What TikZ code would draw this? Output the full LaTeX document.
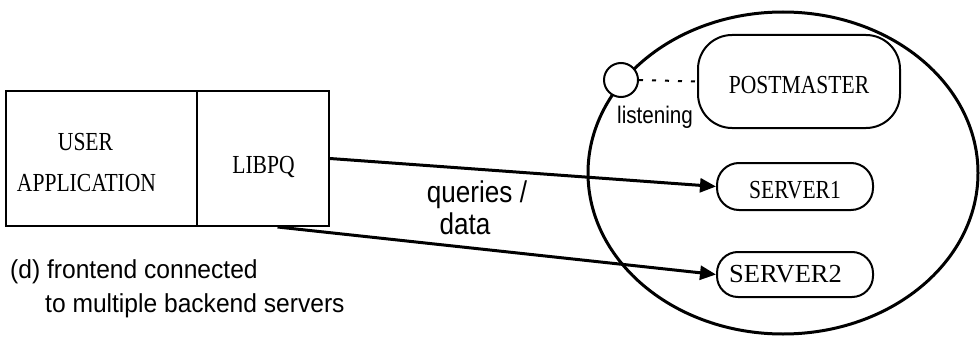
\documentclass[tikz,border=0pt]{standalone}
\usepackage{fontspec}
\usepackage{graphicx}
\setmainfont{Liberation Serif}
\newfontfamily\capfont{Liberation Sans}
\usetikzlibrary{arrows.meta,shapes.geometric}

% serif labels inside the boxes, sans labels for annotations
\newcommand{\boxlabel}[2][0.83]{\scalebox{#1}[1]{#2}}
\newcommand{\annlabel}[2][0.87]{\scalebox{#1}[1]{#2}}

\begin{document}
\begin{tikzpicture}[x=1pt,y=-1pt,
  frame/.style={draw, line width=2pt, inner sep=0pt},
  proc/.style={draw, line width=2pt, inner sep=0pt, minimum width=156pt},
  serif/.style={inner sep=0pt, anchor=base, font=\fontsize{26}{26}\selectfont},
  sans/.style={inner sep=0pt, font=\capfont\fontsize{#1}{#1}\selectfont},
  conn/.style={line width=3pt, -{Triangle[length=16pt,width=14pt]}}]

\useasboundingbox (0,0) rectangle (980,337);

% frontend: user application with the libpq library
\node[frame, minimum width=191pt, minimum height=135pt] (app) at (101.5,158.5) {};
\node[frame, minimum width=132pt, minimum height=135pt] (libpq) at (263,158.5) {};
\node[serif] (appuser) at (85.5,150) {\boxlabel{USER}};
\node[serif] (appname) at (86.5,191) {\boxlabel{APPLICATION}};
\node[serif] (libpqname) at (263.5,173) {\boxlabel{LIBPQ}};

% backend host
\node[draw, ellipse, line width=3pt, minimum width=390pt, minimum height=322pt, inner sep=0pt] (host) at (783,173) {};
\node[draw, circle, fill=white, line width=2pt, minimum size=34pt, inner sep=0pt] (port) at (621,80) {};
\node[proc, rounded corners=34pt, minimum width=202pt, minimum height=93pt] (pm) at (799,81.5) {};
\node[proc, rounded corners=22pt, minimum height=47pt] (srv1) at (795,186.5) {};
\node[proc, rounded corners=21pt, minimum height=45pt] (srv2) at (795,274.5) {};
\node[serif] (pmname) at (799,93) {\boxlabel{POSTMASTER}};
\node[serif] (srv1name) at (795,198) {\boxlabel{SERVER1}};
\node[serif] (srv2name) at (785.5,282) {\boxlabel[1.02]{SERVER2}};

\draw[line width=2pt, dash pattern=on 4pt off 9pt] (port.east) -- (pm.west);
\node[sans=24, anchor=base west] (listen) at (617,123) {\annlabel[0.86]{listening}};

% connections
\draw[conn] (libpq.east) -- (srv1.west);
\draw[conn] (libpq.-78) -- (srv2.west);
\node[sans=30, anchor=base] (qry) at (477,202) {\annlabel{queries /}};
\node[sans=30, anchor=base] (dat) at (465,234) {\annlabel{data}};

% caption
\node[sans=26, anchor=base west] (cap1) at (10,278) {\annlabel[0.946]{(d) frontend connected}};
\node[sans=26, anchor=base west] (cap2) at (45,312) {\annlabel[0.946]{to multiple backend servers}};
\end{tikzpicture}
\end{document}
